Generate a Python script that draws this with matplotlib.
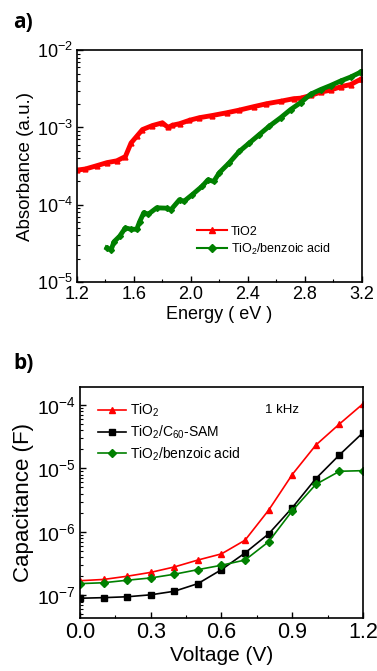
import numpy as np
import matplotlib
matplotlib.use("Agg")
import matplotlib.pyplot as plt
from matplotlib.ticker import LogLocator, MultipleLocator, NullFormatter

plt.rcParams["font.family"] = ["Liberation Sans", "DejaVu Sans"]
plt.rcParams["mathtext.fontset"] = "custom"
plt.rcParams["mathtext.rm"] = "Liberation Sans"
plt.rcParams["mathtext.it"] = "Liberation Sans:italic"

# ---- panel a: absorbance vs energy ----
energy_tio2 = [1.20, 1.26, 1.34, 1.41, 1.48, 1.54, 1.58, 1.62, 1.66, 1.73,
               1.80, 1.84, 1.87, 1.92, 1.99, 2.06, 2.15, 2.25, 2.34, 2.44,
               2.53, 2.63, 2.72, 2.77, 2.84, 2.91, 2.98, 3.05, 3.12, 3.19, 3.20]
abs_tio2 = [2.8e-4, 2.9e-4, 3.2e-4, 3.5e-4, 3.7e-4, 4.2e-4, 6.3e-4, 7.7e-4, 9.4e-4, 1.06e-3,
            1.15e-3, 1.0e-3, 1.07e-3, 1.12e-3, 1.24e-3, 1.34e-3, 1.43e-3, 1.55e-3, 1.68e-3, 1.86e-3,
            2.03e-3, 2.19e-3, 2.36e-3, 2.4e-3, 2.6e-3, 2.87e-3, 3.05e-3, 3.37e-3, 3.6e-3, 4.2e-3, 4.3e-3]

energy_ba = [1.41, 1.44, 1.46, 1.50, 1.54, 1.58, 1.62, 1.64, 1.67, 1.70,
             1.76, 1.83, 1.86, 1.92, 1.95, 2.01, 2.08, 2.12, 2.16, 2.20,
             2.27, 2.34, 2.41, 2.48, 2.55, 2.63, 2.70, 2.77, 2.84, 2.91,
             2.98, 3.05, 3.12, 3.19, 3.20]
abs_ba = [2.75e-5, 2.6e-5, 3.3e-5, 3.9e-5, 5.0e-5, 4.8e-5, 4.8e-5, 6.0e-5, 7.9e-5, 7.5e-5,
          9.1e-5, 9.0e-5, 8.6e-5, 1.16e-4, 1.1e-4, 1.35e-4, 1.74e-4, 2.1e-4, 2.0e-4, 2.6e-4,
          3.5e-4, 4.9e-4, 6.3e-4, 8.1e-4, 1.04e-3, 1.34e-3, 1.71e-3, 2.1e-3, 2.7e-3, 3.1e-3,
          3.5e-3, 4.0e-3, 4.5e-3, 5.2e-3, 5.3e-3]

# ---- panel b: capacitance vs voltage (1 kHz) ----
voltage = [0.0, 0.1, 0.2, 0.3, 0.4, 0.5, 0.6, 0.7, 0.8, 0.9, 1.0, 1.1, 1.2]
cap_tio2 = [1.7e-7, 1.78e-7, 2.0e-7, 2.3e-7, 2.8e-7, 3.6e-7, 4.5e-7, 7.4e-7,
            2.2e-6, 8.0e-6, 2.33e-5, 5.0e-5, 1.04e-4]
cap_c60 = [9.0e-8, 9.2e-8, 9.5e-8, 1.02e-7, 1.16e-7, 1.53e-7, 2.54e-7, 4.66e-7,
           9.3e-7, 2.4e-6, 6.9e-6, 1.63e-5, 3.66e-5]
cap_ba = [1.53e-7, 1.58e-7, 1.73e-7, 1.88e-7, 2.15e-7, 2.54e-7, 2.98e-7, 3.6e-7,
          7.0e-7, 2.15e-6, 5.6e-6, 9.0e-6, 9.2e-6]

RED = "#ff0000"
GREEN = "#008000"

fig = plt.figure(figsize=(3.77, 6.71), dpi=100)
ax1 = fig.add_axes([0.204, 0.580, 0.756, 0.345])
ax2 = fig.add_axes([0.212, 0.079, 0.751, 0.344])


def style_axes(ax, xsize, ysize):
    ax.tick_params(which="both", direction="in", top=False, right=False, pad=3)
    ax.tick_params(axis="x", labelsize=xsize)
    ax.tick_params(axis="y", labelsize=ysize)
    ax.tick_params(which="major", length=4, width=1)
    ax.tick_params(which="minor", length=2.5, width=0.8)
    for s in ax.spines.values():
        s.set_linewidth(1.2)


# panel a
ax1.semilogy(energy_tio2, abs_tio2, color=RED, lw=3.5, marker="^", ms=3.5,
             label="TiO2")
ax1.semilogy(energy_ba, abs_ba, color=GREEN, lw=3.5, marker="D", ms=3,
             label="TiO$_2$/benzoic acid")
ax1.set_xlim(1.2, 3.2)
ax1.set_ylim(1e-5, 1e-2)
ax1.xaxis.set_major_locator(MultipleLocator(0.4))
ax1.xaxis.set_minor_locator(MultipleLocator(0.2))
ax1.xaxis.set_major_formatter(plt.FuncFormatter(lambda v, p: f"{v:.1f}"))
ax1.yaxis.set_minor_locator(LogLocator(base=10, subs=np.arange(2, 10)))
ax1.yaxis.set_minor_formatter(NullFormatter())
style_axes(ax1, 13, 13)
ax1.set_xlabel("Energy ( eV )", fontsize=13, labelpad=2)
ax1.set_ylabel("Absorbance (a.u.)", fontsize=13.5, labelpad=2)
leg1 = ax1.legend(loc="lower right", bbox_to_anchor=(0.93, 0.06), frameon=False,
                  fontsize=9, handlelength=2.4, handletextpad=0.3,
                  labelspacing=0.3)
for h in leg1.legend_handles:
    h.set_linewidth(1.5)
    h.set_markersize(4)
fig.text(0.035, 0.966, "a)", fontsize=15, fontweight="bold",
         family="Open Sans", va="center")

# panel b
ax2.semilogy(voltage, cap_tio2, color=RED, lw=1.2, marker="^", ms=5,
             label="TiO$_2$")
ax2.semilogy(voltage, cap_c60, color="black", lw=1.2, marker="s", ms=4.5,
             label="TiO$_2$/C$_{60}$-SAM")
ax2.semilogy(voltage, cap_ba, color=GREEN, lw=1.2, marker="D", ms=4,
             label="TiO$_2$/benzoic acid")
ax2.set_xlim(0, 1.2)
ax2.set_ylim(4.4e-8, 1.9e-4)
ax2.xaxis.set_major_locator(MultipleLocator(0.3))
ax2.xaxis.set_minor_locator(MultipleLocator(0.15))
ax2.xaxis.set_major_formatter(plt.FuncFormatter(lambda v, p: f"{v:.1f}"))
ax2.yaxis.set_minor_locator(LogLocator(base=10, subs=np.arange(2, 10)))
ax2.yaxis.set_minor_formatter(NullFormatter())
style_axes(ax2, 15.5, 14)
ax2.set_xlabel("Voltage (V)", fontsize=15, labelpad=2)
ax2.set_ylabel("Capacitance (F)", fontsize=16, labelpad=2)
ax2.legend(loc="upper left", bbox_to_anchor=(0.02, 0.99), frameon=False,
           fontsize=10, handlelength=2.0, handletextpad=0.3,
           labelspacing=0.3)
ax2.text(0.654, 0.89, "1 kHz", transform=ax2.transAxes, fontsize=9.5)
fig.text(0.035, 0.459, "b)", fontsize=15, fontweight="bold",
         family="Open Sans", va="center")

fig.savefig("out.png", dpi=100)
